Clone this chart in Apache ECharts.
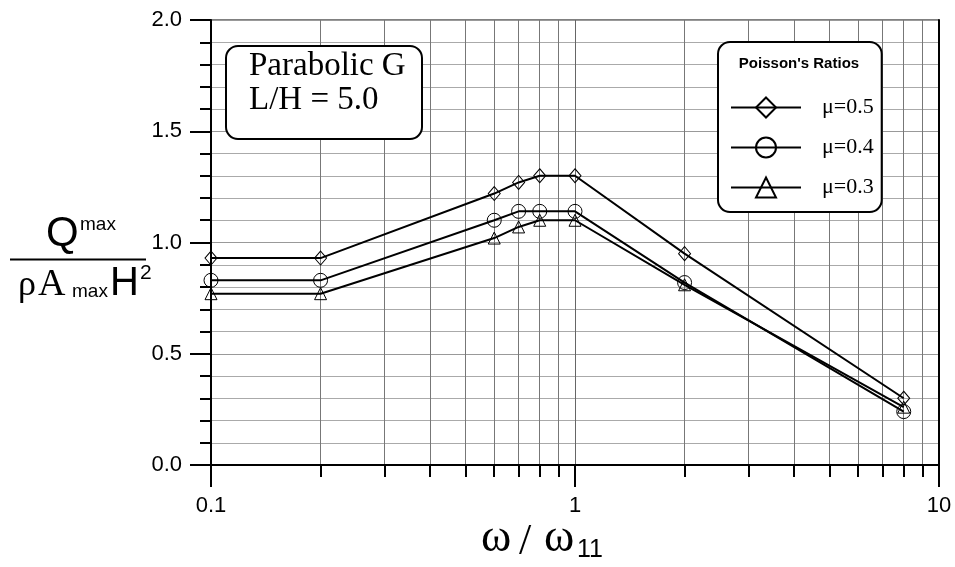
<!DOCTYPE html>
<html>
<head>
<meta charset="utf-8">
<script src="https://cdn.jsdelivr.net/npm/echarts@6/dist/echarts.min.js"></script>
<style>html,body{margin:0;padding:0;background:#fff;}#chart{width:955px;height:567px;}</style>
</head>
<body>
<div id="chart"></div>
<script>
// ---- data ----
var freqRatio = [0.1, 0.2, 0.6, 0.7, 0.8, 1.0, 2.0, 8.0];
var mu05 = [0.93, 0.93, 1.22, 1.27, 1.30, 1.30, 0.95, 0.30];
var mu04 = [0.83, 0.83, 1.10, 1.14, 1.14, 1.14, 0.82, 0.24];
var mu03 = [0.77, 0.77, 1.02, 1.07, 1.10, 1.10, 0.81, 0.26];
var seriesNames = ['\u03bc=0.5', '\u03bc=0.4', '\u03bc=0.3'];
var xTickLabels = {0.1: '0.1', 1: '1', 10: '10'};

function pairs(ys) { return freqRatio.map(function (x, i) { return [x, ys[i]]; }); }

var SANS = 'Liberation Sans';
var SERIF = 'Liberation Serif';

function mkSeries(name, ys, symbol, size) {
  return {
    name: name, type: 'line', data: pairs(ys),
    symbol: symbol, symbolSize: size,
    lineStyle: {color: '#000', width: 2},
    itemStyle: {color: 'none', borderColor: '#000', borderWidth: 1},
    emphasis: {disabled: true},
    z: 5
  };
}

var chart = echarts.init(document.getElementById('chart'));
chart.setOption({
  animation: false,
  backgroundColor: '#fff',
  title: {
    text: 'Parabolic G\nL/H = 5.0',
    left: 226, top: 46,
    padding: [3, 17, 22, 23],
    backgroundColor: '#fff',
    borderColor: '#000', borderWidth: 2, borderRadius: 12,
    textStyle: {fontFamily: SERIF, fontSize: 33, lineHeight: 34, fontWeight: 'normal', color: '#000'}
  },
  legend: {
    data: seriesNames,
    orient: 'vertical',
    left: 718, top: 42,
    padding: [53, 8, 12, 12],
    itemWidth: 70, itemHeight: 25, itemGap: 15,
    backgroundColor: '#fff',
    borderColor: '#000', borderWidth: 2, borderRadius: 12,
    textStyle: {fontFamily: SERIF, fontSize: 22, color: '#000', lineHeight: 25, padding: [0, 0, 0, 16]},
    selectedMode: false
  },
  grid: {left: 211, right: 16, top: 20, bottom: 102, show: true, borderColor: '#000', borderWidth: 1},
  xAxis: {
    type: 'log', logBase: 10, min: 0.1, max: 10,
    axisLine: {lineStyle: {color: '#000', width: 2}},
    axisTick: {show: true, length: 22, lineStyle: {color: '#000', width: 2}},
    minorTick: {show: true, splitNumber: 9, length: 12, lineStyle: {color: '#000', width: 2}},
    splitLine: {show: true, lineStyle: {color: '#666', width: 1}},
    minorSplitLine: {show: true, lineStyle: {color: '#777', width: 1}},
    axisLabel: {margin: 30, fontFamily: SANS, fontSize: 22, color: '#000',
      formatter: function (v) { var k = Math.round(v * 10) / 10; return xTickLabels[k] || ''; }}
  },
  yAxis: [{
    type: 'value', min: 0, max: 2, interval: 0.5,
    axisLine: {show: true, lineStyle: {color: '#000', width: 2}},
    axisTick: {show: true, length: 21, lineStyle: {color: '#000', width: 2}},
    minorTick: {show: true, splitNumber: 5, length: 11, lineStyle: {color: '#000', width: 2}},
    splitLine: {show: true, lineStyle: {color: '#999', width: 1}},
    minorSplitLine: {show: true, lineStyle: {color: '#aaa', width: 1}},
    axisLabel: {margin: 29, fontFamily: SANS, fontSize: 22, color: '#000',
      formatter: function (v) { return v.toFixed(1); }}
  }, {
    type: 'value', min: 0, max: 2, position: 'right',
    axisLine: {show: true, lineStyle: {color: '#000', width: 2}},
    axisTick: {show: false}, axisLabel: {show: false}, splitLine: {show: false}
  }],
  series: [
    mkSeries(seriesNames[0], mu05, 'diamond', [12, 14]),
    mkSeries(seriesNames[1], mu04, 'circle', 14),
    mkSeries(seriesNames[2], mu03, 'triangle', 12)
  ],
  graphic: [
    {type: 'text', z: 10, style: {text: "Poisson's Ratios", x: 799, y: 64, textAlign: 'center', verticalAlign: 'middle', fontFamily: SANS, fontSize: 15, fontWeight: 'bold', fill: '#000'}},
    // y-axis name (fraction)
    {type: 'text', style: {text: 'Q', x: 46, y: 234, verticalAlign: 'middle', fontFamily: SANS, fontSize: 42, fill: '#000'}},
    {type: 'text', style: {text: 'max', x: 80, y: 225, verticalAlign: 'middle', fontFamily: SANS, fontSize: 19, fill: '#000'}},
    {type: 'line', shape: {x1: 10, y1: 259.5, x2: 146, y2: 259.5}, style: {stroke: '#000', lineWidth: 2}},
    {type: 'text', style: {text: '\u03c1', x: 18, y: 286, verticalAlign: 'middle', fontFamily: SERIF, fontSize: 36, fill: '#000'}},
    {type: 'text', style: {text: 'A', x: 38, y: 285, verticalAlign: 'middle', fontFamily: SERIF, fontSize: 38, fill: '#000'}},
    {type: 'text', style: {text: 'max', x: 72, y: 292, verticalAlign: 'middle', fontFamily: SANS, fontSize: 19, fill: '#000'}},
    {type: 'text', style: {text: 'H', x: 110, y: 284, verticalAlign: 'middle', fontFamily: SANS, fontSize: 40, fill: '#000'}},
    {type: 'text', style: {text: '2', x: 140, y: 273, verticalAlign: 'middle', fontFamily: SANS, fontSize: 21, fill: '#000'}},
    // x-axis name
    {type: 'text', style: {text: '\u03c9', x: 481, y: 539, verticalAlign: 'middle', fontFamily: SERIF, fontSize: 46, fill: '#000'}},
    {type: 'text', style: {text: '/', x: 519, y: 542, verticalAlign: 'middle', fontFamily: SERIF, fontSize: 44, fill: '#000'}},
    {type: 'text', style: {text: '\u03c9', x: 544, y: 539, verticalAlign: 'middle', fontFamily: SERIF, fontSize: 46, fill: '#000'}},
    {type: 'text', style: {text: '11', x: 577, y: 550, verticalAlign: 'middle', fontFamily: SANS, fontSize: 25, fill: '#000'}}
  ]
});
</script>
</body>
</html>
